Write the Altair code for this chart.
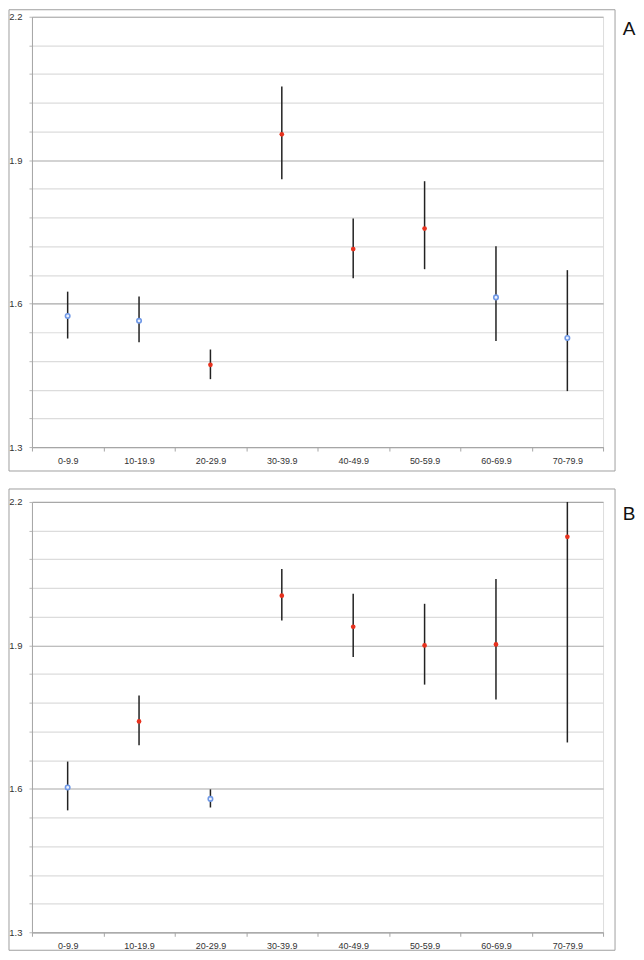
import altair as alt
import pandas as pd

ages = ["0-9.9", "10-19.9", "20-29.9", "30-39.9", "40-49.9", "50-59.9", "60-69.9", "70-79.9"]

a_mean = [1.574, 1.564, 1.472, 1.954, 1.714, 1.757, 1.613, 1.528]
a_low = [1.527, 1.519, 1.442, 1.860, 1.653, 1.672, 1.522, 1.417]
a_high = [1.625, 1.615, 1.504, 2.054, 1.778, 1.856, 1.720, 1.670]
a_sig = [False, False, True, True, True, True, False, False]

b_mean = [1.603, 1.741, 1.579, 2.004, 1.939, 1.900, 1.902, 2.127]
b_low = [1.555, 1.691, 1.561, 1.952, 1.876, 1.818, 1.787, 1.697]
b_high = [1.657, 1.795, 1.599, 2.060, 2.008, 1.987, 2.039, 2.200]
b_sig = [False, True, False, True, True, True, True, True]

y_ticks = [1.3, 1.36, 1.42, 1.48, 1.54, 1.6, 1.66, 1.72, 1.78, 1.84,
           1.9, 1.96, 2.02, 2.08, 2.14, 2.2]
major_test = "abs((datum.value - 1.3) / 0.3 - round((datum.value - 1.3) / 0.3)) < 0.01"

W, H = 572, 431
FONT = "Liberation Sans"


def panel(mean, low, high, sig, label, frame_top, frame_bottom):
    df = pd.DataFrame({"age": ages, "mean": mean, "low": low, "high": high, "sig": sig})
    x = alt.X("age:N", sort=ages, title=None,
              scale=alt.Scale(type="band", paddingInner=0, paddingOuter=0),
              axis=alt.Axis(labelAngle=0, tickBand="extent", domainColor="#a6a6a6",
                            tickColor="#a6a6a6", tickSize=4, labelFontSize=9,
                            labelColor="#333333", labelFont=FONT, labelPadding=5,
                            labelOverlap=False, grid=False))
    y_scale = alt.Scale(domain=[1.3, 2.2], nice=False, zero=False)
    y_axis = alt.Axis(values=y_ticks, tickCount=40, title=None, format=".1f",
                      labelExpr=f"({major_test}) ? format(datum.value, '.1f') : ''",
                      labelOverlap=False,
                      grid=True,
                      gridColor={"condition": {"test": major_test, "value": "#a8a8a8"},
                                 "value": "#dcdcdc"},
                      gridWidth=1.2,
                      domainColor="#a6a6a6", tickColor="#b8b8b8", tickSize=3,
                      labelFontSize=9.5, labelColor="#333333", labelFont=FONT,
                      labelPadding=7)
    base = alt.Chart(df)
    bars = base.mark_rule(color="#222222", strokeWidth=1.5).encode(
        x=x,
        y=alt.Y("low:Q", scale=y_scale, axis=y_axis),
        y2="high:Q",
    )
    red = base.transform_filter("datum.sig").mark_point(
        shape="circle", filled=True, color="#e8321e", size=22, opacity=1
    ).encode(x=x, y=alt.Y("mean:Q", scale=y_scale, axis=y_axis))
    blue = base.transform_filter("!datum.sig").mark_point(
        shape="circle", filled=False, color="#6f98e6", size=20, strokeWidth=1.6,
        fill="#eef3ff", fillOpacity=1, opacity=1
    ).encode(x=x, y=alt.Y("mean:Q", scale=y_scale, axis=y_axis))
    one = pd.DataFrame({"t": [label]})
    frame = alt.Chart(one).mark_rect(
        fillOpacity=0, stroke="#a0a0a0", strokeWidth=1
    ).encode(x=alt.value(-23), x2=alt.value(584),
             y=alt.value(frame_top), y2=alt.value(frame_bottom))
    text = alt.Chart(one).mark_text(
        fontSize=19, font=FONT, color="#111111", align="center", baseline="middle"
    ).encode(x=alt.value(598), y=alt.value(12), text="t:N")
    return alt.layer(frame, bars, red, blue, text).properties(width=W, height=H)


pa = panel(a_mean, a_low, a_high, a_sig, "A", -7, 455)
pb = panel(b_mean, b_low, b_high, b_sig, "B", -13, 449)

chart = alt.vconcat(pa, pb, spacing=16).properties(
    padding=0
).configure_view(stroke=None).configure(background="white")

chart.save("out.html", embed_options={"renderer": "svg", "actions": False})
